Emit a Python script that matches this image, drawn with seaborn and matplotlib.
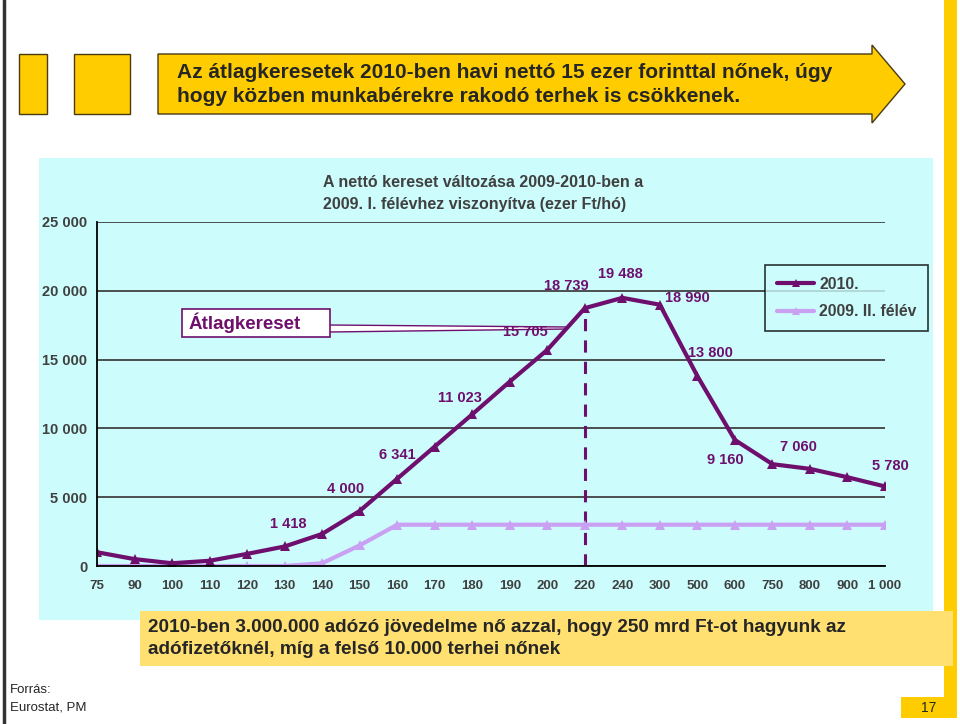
import numpy as np
import pandas as pd
import matplotlib
matplotlib.use("Agg")
import matplotlib.pyplot as plt
import seaborn as sns
from matplotlib.patches import Rectangle, Polygon
from matplotlib.lines import Line2D

sns.set_style("white")
plt.rcParams['font.family'] = ['Liberation Sans', 'DejaVu Sans']

# data (income levels, ezer Ft/hó)
categories = ["75", "90", "100", "110", "120", "130", "140", "150", "160", "170", "180",
              "190", "200", "220", "240", "300", "500", "600", "750", "800", "900", "1 000"]
net_2010 = [1000, 500, 200, 380, 880, 1418, 2330, 4000, 6341, 8680, 11023,
            13400, 15705, 18739, 19488, 18990, 13800, 9160, 7400, 7060, 6450, 5780]
net_2009_h2 = [0, 0, 0, 0, 0, 0, 200, 1500, 3000, 3000, 3000,
               3000, 3000, 3000, 3000, 3000, 3000, 3000, 3000, 3000, 3000, 3000]
labeled = {"130": "1 418", "150": "4 000", "160": "6 341", "180": "11 023",
           "200": "15 705", "220": "18 739", "240": "19 488", "300": "18 990",
           "500": "13 800", "600": "9 160", "800": "7 060", "1 000": "5 780"}
# label offsets in pixels (dx, dy)
label_offsets = {"130": (4, 22), "150": (-14, 22), "160": (0, 24), "180": (-12, 16),
                 "200": (-22, 18), "220": (-18, 22), "240": (-2, 24), "300": (28, 7),
                 "500": (13, 23), "600": (-10, -20), "800": (-12, 22), "1 000": (5, 20)}

dark = "#6E0F6E"
light = "#C9A0F2"
cyan = "#CCFCFC"
yellow = "#FFCC00"
pale_yellow = "#FFE070"
gray = "#404040"

W, H = 960, 724
fig = plt.figure(figsize=(W / 100, H / 100), dpi=100)


def fx(px):
    return px / W


def fy(py):
    return 1 - py / H


def rect(x0, y0, x1, y1, **kw):
    fig.add_artist(Rectangle((fx(x0), fy(y1)), fx(x1) - fx(x0), fy(y0) - fy(y1),
                             transform=fig.transFigure, **kw))


# slide decoration
fig.add_artist(Line2D([fx(4), fx(4)], [0, 1], color="#333333", lw=2.5, transform=fig.transFigure))
rect(944, 0, 957, 697, facecolor=yellow, edgecolor="none")
rect(901, 697, 957, 718, facecolor=yellow, edgecolor="none")
fig.text(fx(929), fy(708), "17", ha="center", va="center", fontsize=10)
rect(19, 54, 47, 114, facecolor=yellow, edgecolor="#4a3a10", lw=1)
rect(74, 54, 130, 114, facecolor=yellow, edgecolor="#4a3a10", lw=1)
arrow = [(158, 54), (872, 54), (872, 45), (905, 84), (872, 123), (872, 114), (158, 114)]
fig.add_artist(Polygon([(fx(a), fy(b)) for a, b in arrow], closed=True, facecolor=yellow,
                       edgecolor="#4a3a10", lw=1, transform=fig.transFigure))
fig.text(fx(177), fy(72), "Az átlagkeresetek 2010-ben havi nettó 15 ezer forinttal nőnek, úgy",
         fontsize=15, fontweight="bold", va="center", ha="left")
fig.text(fx(177), fy(97), "hogy közben munkabérekre rakodó terhek is csökkenek.",
         fontsize=15, fontweight="bold", va="center", ha="left")

# chart panel
rect(39, 158, 933, 620, facecolor=cyan, edgecolor="none", zorder=0)
fig.text(fx(323), fy(182), "A nettó kereset változása 2009-2010-ben a",
         fontsize=11.5, fontweight="bold", color=gray, va="center")
fig.text(fx(323), fy(204), "2009. I. félévhez viszonyítva (ezer Ft/hó)",
         fontsize=11.5, fontweight="bold", color=gray, va="center")

# callout (under the axes so the curve stays on top)
pointer = [(329, 325), (567, 327), (567, 329), (329, 332)]
fig.add_artist(Polygon([(fx(a), fy(b)) for a, b in pointer], closed=True, facecolor="white",
                       edgecolor=dark, lw=1, transform=fig.transFigure, zorder=1))
rect(182, 309, 330, 337, facecolor="white", edgecolor=dark, lw=1.2, zorder=1)
fig.text(fx(245), fy(323), "Átlagkereset", fontsize=13.5, fontweight="bold", color=dark,
         ha="center", va="center", zorder=1)

ax = fig.add_axes([fx(97), fy(566), fx(885) - fx(97), fy(222) - fy(566)])
ax.set_zorder(3)
ax.patch.set_alpha(0)

df = pd.DataFrame({"jov": categories * 2,
                   "val": net_2010 + net_2009_h2,
                   "sor": ["2010."] * len(categories) + ["2009. II. félév"] * len(categories)})

sns.lineplot(data=df, x="jov", y="val", hue="sor", sort=False, ax=ax,
             palette={"2010.": dark, "2009. II. félév": light},
             hue_order=["2009. II. félév", "2010."],
             marker="^", markersize=7, markeredgewidth=0, linewidth=3, legend=False)

ax.set_xlim(0, len(categories) - 1)
ax.set_ylim(0, 25000)
ax.set_yticks(range(0, 25001, 5000))
ax.set_yticklabels([f"{v:,}".replace(",", " ") for v in range(0, 25001, 5000)])
ax.set_xlabel("")
ax.set_ylabel("")
ax.yaxis.grid(True, color=gray, lw=1.3)
ax.set_axisbelow(True)
for s in ["top", "right"]:
    ax.spines[s].set_visible(False)
ax.spines["left"].set_color("black")
ax.spines["bottom"].set_color("black")
ax.spines["left"].set_linewidth(1.3)
ax.spines["bottom"].set_linewidth(1.3)
ax.tick_params(axis="both", which="both", direction="out", length=4, width=1.2,
               color="black", labelcolor=gray)
ax.tick_params(axis="x", pad=6, labelsize=9.5)
ax.tick_params(axis="y", pad=3, labelsize=10.5)
for t in ax.get_xticklabels() + ax.get_yticklabels():
    t.set_fontweight("bold")

# dashed reference line at 220
i220 = categories.index("220")
ax.plot([i220, i220], [0, net_2010[i220]], color=dark, lw=2.2, ls=(0, (4, 3)), zorder=1)

# value labels
for cat, txt in labeled.items():
    i = categories.index(cat)
    dx, dy = label_offsets[cat]
    ax.annotate(txt, (i, net_2010[i]), xytext=(dx, dy), textcoords="offset pixels",
                ha="center", va="center", fontsize=10.5, fontweight="bold", color=dark)

# legend
handles = [Line2D([], [], color=dark, lw=3, marker="^", markersize=6, markeredgewidth=0),
           Line2D([], [], color=light, lw=3, marker="^", markersize=6, markeredgewidth=0)]
leg = fig.legend(handles, ["2010.", "2009. II. félév"], loc="upper left",
                 bbox_to_anchor=(fx(765), fy(265)), frameon=True, fancybox=False,
                 handlelength=2.4, handletextpad=0.3, borderpad=0.75, labelspacing=0.8,
                 borderaxespad=0, prop={"size": 11.3, "weight": "bold"})
leg.get_frame().set_edgecolor("black")
leg.get_frame().set_facecolor(cyan)
leg.get_frame().set_linewidth(1.2)
leg.set_zorder(5)
for t in leg.get_texts():
    t.set_color(gray)

# bottom note
rect(140, 611, 953, 666, facecolor=pale_yellow, edgecolor="none", zorder=4)
fig.text(fx(148), fy(628), "2010-ben 3.000.000 adózó jövedelme nő azzal, hogy 250 mrd Ft-ot hagyunk az",
         fontsize=13.7, fontweight="bold", va="center", zorder=5)
fig.text(fx(148), fy(650), "adófizetőknél, míg a felső 10.000 terhei nőnek",
         fontsize=13.7, fontweight="bold", va="center", zorder=5)

fig.text(fx(10), fy(690), "Forrás:", fontsize=9.5, va="center")
fig.text(fx(10), fy(707), "Eurostat, PM", fontsize=9.5, va="center")

fig.savefig("out.png", dpi=100, facecolor="white")
